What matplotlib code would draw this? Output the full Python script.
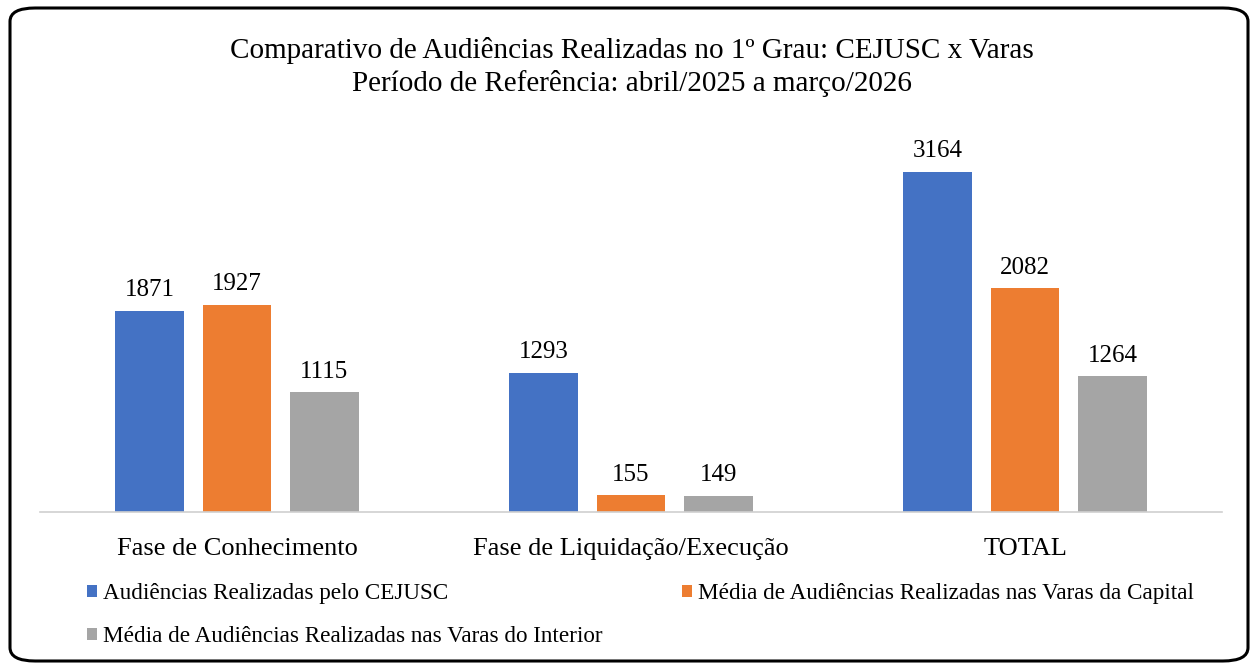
import matplotlib
matplotlib.use("Agg")
import matplotlib.pyplot as plt
from matplotlib.patches import FancyBboxPatch
import numpy as np

plt.rcParams['font.family'] = ['Liberation Serif', 'DejaVu Serif']

categories = ["Fase de Conhecimento", "Fase de Liquidação/Execução", "TOTAL"]
series_names = ["Audiências Realizadas pelo CEJUSC",
                "Média de Audiências Realizadas nas Varas da Capital",
                "Média de Audiências Realizadas nas Varas do Interior"]
cejusc = [1871, 1293, 3164]
capital = [1927, 155, 2082]
interior = [1115, 149, 1264]
colors = ["#4472C4", "#ED7D31", "#A5A5A5"]
title = "Comparativo de Audiências Realizadas no 1º Grau: CEJUSC x Varas\nPeríodo de Referência: abril/2025 a março/2026"

W, H = 1258, 671
fig = plt.figure(figsize=(W/100, H/100), dpi=100)

border = FancyBboxPatch((10/W, 10/H), 1238/W, 653/H,
                        boxstyle="round,pad=0,rounding_size=0.02",
                        transform=fig.transFigure, fill=False,
                        edgecolor="black", linewidth=2.2)
fig.patches.append(border)

ax = fig.add_axes([40/W, 159/H, 1182/W, 376/H])
x = np.arange(len(categories))
width = 0.175
pitch = 0.222
handles = []
for i, (vals, name, c) in enumerate(zip([cejusc, capital, interior], series_names, colors)):
    bars = ax.bar(x + (i - 1) * pitch, vals, width, color=c, label=name)
    handles.append(bars)
    for b, v in zip(bars, vals):
        ax.text(b.get_x() + b.get_width()/2, v + 90, str(v),
                ha="center", va="bottom", fontsize=18, color="#000000")

ax.set_xlim(-0.5, 2.5)
ax.set_ylim(0, 3500)
ax.set_xticks(x)
ax.set_xticklabels(categories, fontsize=19)
ax.tick_params(axis="x", length=0, pad=19)
ax.set_yticks([])
for s in ["top", "right", "left"]:
    ax.spines[s].set_visible(False)
ax.spines["bottom"].set_color("#D0D0D0")
ax.spines["bottom"].set_linewidth(1.2)
ax.patch.set_visible(False)

fig.text(632/W, 1 - 67/H, title, ha="center", va="center", fontsize=21,
         linespacing=1.3)

leg = fig.legend([handles[0], handles[2], handles[1]],
                 [series_names[0], series_names[2], series_names[1]],
                 ncol=2, loc="upper left", bbox_to_anchor=(87/W, 1 - 583/H),
                 frameon=False, fontsize=16.7, handlelength=0.45, handleheight=0.45,
                 handletextpad=0.25, columnspacing=3.4, labelspacing=0.95,
                 borderaxespad=0, borderpad=0)

fig.savefig("out.png", dpi=100)
